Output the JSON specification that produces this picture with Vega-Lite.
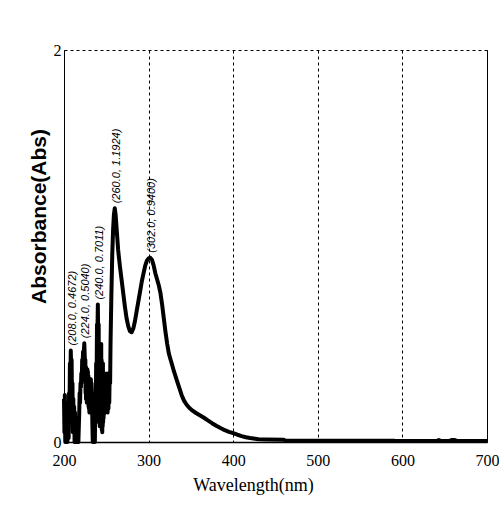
{
  "$schema": "https://vega.github.io/schema/vega-lite/v6.json",
  "width": 423,
  "height": 392,
  "autosize": {"type": "none"},
  "padding": {"left": 64, "top": 50, "right": 12, "bottom": 69},
  "background": "white",
  "config": {
    "view": {"stroke": null},
    "axis": {
      "grid": true,
      "gridColor": "black",
      "gridDash": [3, 3],
      "gridWidth": 1,
      "gridOpacity": 1,
      "domainColor": "black",
      "ticks": false,
      "labelFont": "Liberation Serif",
      "labelColor": "black",
      "labelFontSize": 16,
      "labelFlush": false,
      "labelOverlap": false
    }
  },
  "datasets": {
    "spectrum": [
      {"wl": 200, "abs": 0.22}, {"wl": 200.5, "abs": 0.05}, {"wl": 201, "abs": 0.24}, {"wl": 201.5, "abs": 0.0},
      {"wl": 202, "abs": 0.2}, {"wl": 203, "abs": 0.0}, {"wl": 204, "abs": 0.0}, {"wl": 205, "abs": 0.1},
      {"wl": 205.5, "abs": 0.02}, {"wl": 206, "abs": 0.25}, {"wl": 206.5, "abs": 0.15}, {"wl": 207, "abs": 0.4},
      {"wl": 207.5, "abs": 0.3}, {"wl": 208, "abs": 0.4672}, {"wl": 208.5, "abs": 0.38}, {"wl": 209, "abs": 0.42},
      {"wl": 209.5, "abs": 0.2}, {"wl": 210, "abs": 0.3}, {"wl": 210.5, "abs": 0.05}, {"wl": 211, "abs": 0.22},
      {"wl": 211.5, "abs": 0.08}, {"wl": 212, "abs": 0.18}, {"wl": 212.5, "abs": 0.0}, {"wl": 213, "abs": 0.15},
      {"wl": 213.5, "abs": 0.02}, {"wl": 214, "abs": 0.12}, {"wl": 215, "abs": 0.0}, {"wl": 216, "abs": 0.05},
      {"wl": 217, "abs": 0.0}, {"wl": 218, "abs": 0.15}, {"wl": 218.5, "abs": 0.25}, {"wl": 219, "abs": 0.2},
      {"wl": 219.5, "abs": 0.3}, {"wl": 220, "abs": 0.28}, {"wl": 220.5, "abs": 0.35}, {"wl": 221, "abs": 0.32},
      {"wl": 221.5, "abs": 0.42}, {"wl": 222, "abs": 0.38}, {"wl": 222.5, "abs": 0.46}, {"wl": 223, "abs": 0.42},
      {"wl": 224, "abs": 0.504}, {"wl": 224.5, "abs": 0.44}, {"wl": 225, "abs": 0.3}, {"wl": 225.25, "abs": 0.42},
      {"wl": 225.5, "abs": 0.25}, {"wl": 225.75, "abs": 0.38}, {"wl": 226, "abs": 0.22}, {"wl": 226.25, "abs": 0.38},
      {"wl": 226.5, "abs": 0.24}, {"wl": 226.75, "abs": 0.36}, {"wl": 227, "abs": 0.2}, {"wl": 227.25, "abs": 0.36},
      {"wl": 227.5, "abs": 0.24}, {"wl": 227.75, "abs": 0.37}, {"wl": 228, "abs": 0.22}, {"wl": 228.25, "abs": 0.36},
      {"wl": 228.5, "abs": 0.2}, {"wl": 228.75, "abs": 0.34}, {"wl": 229, "abs": 0.18}, {"wl": 229.25, "abs": 0.33},
      {"wl": 229.5, "abs": 0.17}, {"wl": 229.75, "abs": 0.32}, {"wl": 230, "abs": 0.15}, {"wl": 230.25, "abs": 0.3},
      {"wl": 230.5, "abs": 0.16}, {"wl": 230.75, "abs": 0.3}, {"wl": 231, "abs": 0.15}, {"wl": 231.25, "abs": 0.3},
      {"wl": 231.5, "abs": 0.18}, {"wl": 231.75, "abs": 0.32}, {"wl": 232, "abs": 0.2}, {"wl": 232.5, "abs": 0.3},
      {"wl": 233, "abs": 0.25}, {"wl": 233.5, "abs": 0.1},
      {"wl": 234, "abs": 0.0}, {"wl": 235, "abs": 0.0}, {"wl": 236, "abs": 0.0}, {"wl": 236.5, "abs": 0.0},
      {"wl": 237, "abs": 0.2}, {"wl": 237.5, "abs": 0.1}, {"wl": 238, "abs": 0.4}, {"wl": 238.5, "abs": 0.3},
      {"wl": 239, "abs": 0.6}, {"wl": 239.5, "abs": 0.55}, {"wl": 240, "abs": 0.7011}, {"wl": 240.5, "abs": 0.5},
      {"wl": 241, "abs": 0.6}, {"wl": 241.25, "abs": 0.2}, {"wl": 241.5, "abs": 0.45}, {"wl": 241.75, "abs": 0.1},
      {"wl": 242, "abs": 0.4}, {"wl": 242.25, "abs": 0.08}, {"wl": 242.5, "abs": 0.42}, {"wl": 242.75, "abs": 0.1},
      {"wl": 243, "abs": 0.45}, {"wl": 243.25, "abs": 0.12}, {"wl": 243.5, "abs": 0.48}, {"wl": 243.75, "abs": 0.1},
      {"wl": 244, "abs": 0.5}, {"wl": 244.25, "abs": 0.08}, {"wl": 244.5, "abs": 0.42}, {"wl": 244.75, "abs": 0.06},
      {"wl": 245, "abs": 0.38}, {"wl": 245.25, "abs": 0.05}, {"wl": 245.5, "abs": 0.36}, {"wl": 245.75, "abs": 0.08},
      {"wl": 246, "abs": 0.4}, {"wl": 246.25, "abs": 0.1}, {"wl": 246.5, "abs": 0.35}, {"wl": 246.75, "abs": 0.12},
      {"wl": 247, "abs": 0.33}, {"wl": 247.25, "abs": 0.14}, {"wl": 247.5, "abs": 0.34}, {"wl": 247.75, "abs": 0.16},
      {"wl": 248, "abs": 0.35}, {"wl": 248.5, "abs": 0.2},
      {"wl": 249, "abs": 0.32}, {"wl": 249.5, "abs": 0.2}, {"wl": 250, "abs": 0.33}, {"wl": 250.5, "abs": 0.2},
      {"wl": 251, "abs": 0.35}, {"wl": 251.5, "abs": 0.15}, {"wl": 252, "abs": 0.3}, {"wl": 252.5, "abs": 0.17},
      {"wl": 253, "abs": 0.32}, {"wl": 253.5, "abs": 0.2}, {"wl": 254, "abs": 0.35}, {"wl": 254.5, "abs": 0.3},
      {"wl": 255, "abs": 0.5}, {"wl": 256, "abs": 0.75}, {"wl": 257, "abs": 0.95}, {"wl": 258, "abs": 1.08},
      {"wl": 259, "abs": 1.16}, {"wl": 260, "abs": 1.1924}, {"wl": 261, "abs": 1.16}, {"wl": 262, "abs": 1.1},
      {"wl": 263, "abs": 1.04}, {"wl": 264, "abs": 0.98}, {"wl": 266, "abs": 0.9}, {"wl": 268, "abs": 0.83},
      {"wl": 270, "abs": 0.76}, {"wl": 272, "abs": 0.69}, {"wl": 274, "abs": 0.63}, {"wl": 276, "abs": 0.59},
      {"wl": 278, "abs": 0.565}, {"wl": 280, "abs": 0.56}, {"wl": 282, "abs": 0.58}, {"wl": 284, "abs": 0.62},
      {"wl": 286, "abs": 0.67}, {"wl": 288, "abs": 0.72}, {"wl": 290, "abs": 0.77}, {"wl": 292, "abs": 0.82},
      {"wl": 294, "abs": 0.86}, {"wl": 296, "abs": 0.9}, {"wl": 298, "abs": 0.925}, {"wl": 300, "abs": 0.937},
      {"wl": 302, "abs": 0.94}, {"wl": 304, "abs": 0.93}, {"wl": 306, "abs": 0.9}, {"wl": 308, "abs": 0.86},
      {"wl": 310, "abs": 0.83}, {"wl": 312, "abs": 0.8}, {"wl": 314, "abs": 0.76}, {"wl": 316, "abs": 0.7},
      {"wl": 318, "abs": 0.63}, {"wl": 320, "abs": 0.56}, {"wl": 322, "abs": 0.5}, {"wl": 324, "abs": 0.45},
      {"wl": 326, "abs": 0.42}, {"wl": 328, "abs": 0.39}, {"wl": 330, "abs": 0.36}, {"wl": 333, "abs": 0.32},
      {"wl": 336, "abs": 0.28}, {"wl": 339, "abs": 0.24}, {"wl": 342, "abs": 0.21}, {"wl": 345, "abs": 0.19},
      {"wl": 348, "abs": 0.175}, {"wl": 352, "abs": 0.16}, {"wl": 356, "abs": 0.148}, {"wl": 360, "abs": 0.138},
      {"wl": 365, "abs": 0.125}, {"wl": 370, "abs": 0.11}, {"wl": 375, "abs": 0.096}, {"wl": 380, "abs": 0.083},
      {"wl": 385, "abs": 0.071}, {"wl": 390, "abs": 0.06}, {"wl": 395, "abs": 0.052}, {"wl": 400, "abs": 0.045},
      {"wl": 405, "abs": 0.037}, {"wl": 410, "abs": 0.03}, {"wl": 415, "abs": 0.024}, {"wl": 420, "abs": 0.02},
      {"wl": 430, "abs": 0.014}, {"wl": 440, "abs": 0.013}, {"wl": 460, "abs": 0.012}, {"wl": 461, "abs": 0.008},
      {"wl": 500, "abs": 0.007}, {"wl": 550, "abs": 0.007}, {"wl": 590, "abs": 0.007}, {"wl": 591, "abs": 0.005},
      {"wl": 640, "abs": 0.005}, {"wl": 643, "abs": 0.01}, {"wl": 646, "abs": 0.005}, {"wl": 655, "abs": 0.005},
      {"wl": 658, "abs": 0.01}, {"wl": 662, "abs": 0.01}, {"wl": 665, "abs": 0.005}, {"wl": 700, "abs": 0.005}
    ],
    "peaks": [
      {"wl": 208, "abs": 0.4672, "label": "(208.0, 0.4672)"},
      {"wl": 224, "abs": 0.504, "label": "(224.0, 0.5040)"},
      {"wl": 240, "abs": 0.7011, "label": "(240.0, 0.7011)"},
      {"wl": 260, "abs": 1.1924, "label": "(260.0, 1.1924)"},
      {"wl": 302, "abs": 0.94, "label": "(302.0, 0.9400)"}
    ]
  },
  "resolve": {"axis": {"y": "independent"}},
  "layer": [
    {
      "data": {"name": "spectrum"},
      "mark": {"type": "line", "color": "black", "strokeWidth": 4, "strokeJoin": "round"},
      "encoding": {
        "x": {
          "field": "wl", "type": "quantitative",
          "scale": {"domain": [200, 700], "nice": false, "zero": false},
          "axis": {
            "values": [200, 300, 400, 500, 600, 700],
            "format": "d",
            "title": "Wavelength(nm)",
            "titleFont": "Liberation Serif",
            "titleFontSize": 18,
            "titleFontWeight": "normal",
            "titleColor": "black",
            "titleX": 189,
            "titleY": 43,
            "titleAlign": "center",
            "titleBaseline": "middle",
            "domainWidth": 1.5,
            "labelPadding": 10
          }
        },
        "y": {
          "field": "abs", "type": "quantitative",
          "scale": {"domain": [0, 2], "nice": false},
          "axis": {
            "values": [0, 1, 2],
            "format": "d",
            "title": "Absorbance(Abs)",
            "titleFont": "Liberation Sans",
            "titleFontSize": 21,
            "titleFontWeight": "bold",
            "titleColor": "black",
            "titleAngle": -90,
            "titleX": -25,
            "titleY": 166,
            "titleAlign": "center",
            "titleBaseline": "middle",
            "domainWidth": 1,
            "labelPadding": 3
          }
        }
      }
    },
    {
      "data": {"name": "peaks"},
      "mark": {
        "type": "text", "angle": 270, "align": "left", "baseline": "middle",
        "dx": 5, "dy": 2, "font": "Liberation Sans", "fontStyle": "italic",
        "fontSize": 11, "color": "black"
      },
      "encoding": {
        "x": {"field": "wl", "type": "quantitative"},
        "y": {
          "field": "abs", "type": "quantitative",
          "axis": {"orient": "right", "grid": false, "labels": false, "title": null, "domainWidth": 1}
        },
        "text": {"field": "label"}
      }
    }
  ]
}
